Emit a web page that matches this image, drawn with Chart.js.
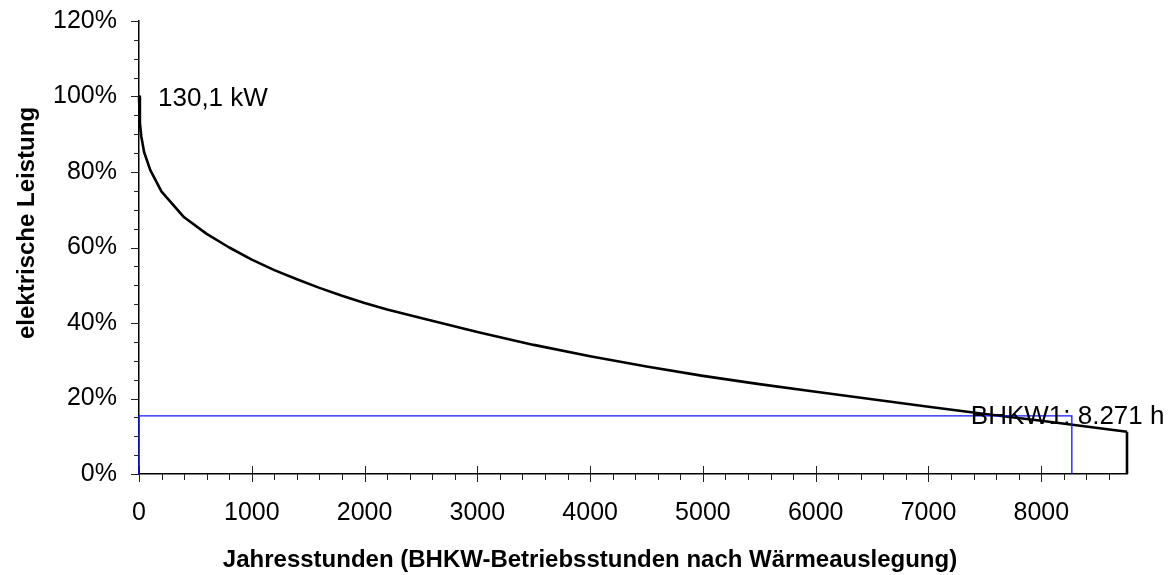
<!DOCTYPE html>
<html>
<head>
<meta charset="utf-8">
<script src="https://cdn.jsdelivr.net/npm/chart.js@4/dist/chart.umd.min.js"></script>
<style>
  body { margin: 0; background: #fff; }
  #wrap { width: 1176px; height: 575px; }
</style>
</head>
<body>
<div id="wrap"><canvas id="myChartCanvas"></canvas></div>
<script>
// Jahresdauerlinie der elektrischen Leistung
const hours = [0, 8, 20, 45, 100, 200, 400, 600, 800, 1000, 1200, 1400, 1600, 1800, 2000, 2200, 2500, 3000, 3500, 4000, 4500, 5000, 5500, 6000, 6500, 7000, 7500, 8000, 8760];
const load = [100, 93, 89.5, 85.3, 80.5, 74.8, 68.0, 63.6, 60.0, 56.8, 54.0, 51.6, 49.3, 47.2, 45.3, 43.6, 41.3, 37.6, 34.2, 31.2, 28.5, 26.0, 23.8, 21.8, 19.8, 17.8, 15.9, 14.1, 11.2];

// closing drop of the curve at the end of the year
const dropHours = [8760, 8760];
const dropLoad = [11.2, 0];

// BHKW1 operating block
const bhkwHours = [0, 0, 8271, 8271];
const bhkwLoad = [0, 15.4, 15.4, 0];

const xMax = 8760;
const xTicks = [0, 1000, 2000, 3000, 4000, 5000, 6000, 7000, 8000];
const yTicks = [0, 20, 40, 60, 80, 100, 120];
const peakLabel = '130,1 kW';
const bhkwLabel = 'BHKW1: 8.271 h';
const xTitle = 'Jahresstunden (BHKW-Betriebsstunden nach Wärmeauslegung)';
const yTitle = 'elektrische Leistung';

const FONT = "'Liberation Sans', Arial, sans-serif";

function toPoints(xs, ys) {
  return xs.map((x, i) => ({ x: x, y: ys[i] }));
}

// Draws tick marks (major + minor), axis titles and the two text labels
const decorations = {
  id: 'decorations',
  afterDraw(chart) {
    const { ctx } = chart;
    const x = chart.scales.x;
    const y = chart.scales.y;
    ctx.save();
    ctx.strokeStyle = '#222';
    ctx.lineWidth = 1;

    // x ticks every 200 h, long ones every 1000 h
    for (let v = 0; v <= xMax; v += 200) {
      const px = Math.round(x.getPixelForValue(v)) + 0.5;
      const major = v % 1000 === 0;
      ctx.beginPath();
      ctx.moveTo(px, y.bottom + (major ? -8 : 0));
      ctx.lineTo(px, y.bottom + (major ? 8 : 6));
      ctx.stroke();
    }
    // y ticks every 5 %, long ones every 20 %
    for (let v = 0; v <= 120; v += 5) {
      const py = Math.round(y.getPixelForValue(v)) + 0.5;
      const major = v % 20 === 0;
      ctx.beginPath();
      ctx.moveTo(x.left - (major ? 8 : 5), py);
      ctx.lineTo(x.left, py);
      ctx.stroke();
    }

    ctx.fillStyle = '#000';
    ctx.textBaseline = 'alphabetic';

    // annotations
    ctx.font = '26px ' + FONT;
    ctx.textAlign = 'left';
    ctx.fillText(peakLabel, x.getPixelForValue(0) + 19, y.getPixelForValue(100) + 9);
    ctx.fillText(bhkwLabel, x.getPixelForValue(7375), y.getPixelForValue(15.4) + 8);

    // axis titles
    ctx.font = 'bold 24px ' + FONT;
    ctx.textAlign = 'center';
    ctx.fillText(xTitle, 590, 567);

    ctx.translate(34, 223);
    ctx.rotate(-Math.PI / 2);
    ctx.fillText(yTitle, 0, 0);
    ctx.restore();
  }
};

const config = {
  type: 'scatter',
  data: {
    datasets: [
      {
        label: 'BHKW1',
        data: toPoints(bhkwHours, bhkwLoad),
        showLine: true,
        borderColor: 'rgb(20, 20, 255)',
        borderWidth: 1.3,
        pointRadius: 0,
        clip: 10,
      },
      {
        label: 'Leistung',
        data: toPoints(hours, load),
        showLine: true,
        borderColor: '#000',
        borderWidth: 2.6,
        pointRadius: 0,
        tension: 0,
        borderJoinStyle: 'round',
        clip: 10,
      },
      {
        label: 'Ende',
        data: toPoints(dropHours, dropLoad),
        showLine: true,
        borderColor: '#000',
        borderWidth: 2.6,
        pointRadius: 0,
        clip: 10,
      },
    ],
  },
  options: {
    responsive: true,
    maintainAspectRatio: false,
    animation: false,
    layout: {
      padding: { left: 0, right: 49, top: 21, bottom: 0 },
    },
    plugins: {
      legend: { display: false },
      tooltip: { enabled: false },
    },
    scales: {
      x: {
        type: 'linear',
        min: 0,
        max: xMax,
        afterBuildTicks: (scale) => {
          scale.ticks = xTicks.map((v) => ({ value: v }));
        },
        afterFit: (scale) => {
          scale.height = 101;
          scale.paddingLeft = 0;
          scale.paddingRight = 0;
        },
        ticks: {
          padding: 24,
          color: '#000',
          maxRotation: 0,
          minRotation: 0,
          autoSkip: false,
          font: { family: FONT, size: 25 },
          callback: (value) => String(value),
        },
        grid: { display: false, drawTicks: false },
        border: { display: true, color: '#000', width: 1.5 },
      },
      y: {
        type: 'linear',
        min: 0,
        max: 120,
        afterBuildTicks: (scale) => {
          scale.ticks = yTicks.map((v) => ({ value: v }));
        },
        afterFit: (scale) => {
          scale.width = 139;
          scale.paddingTop = 0;
          scale.paddingBottom = 0;
        },
        ticks: {
          padding: 22,
          color: '#000',
          font: { family: FONT, size: 25 },
          callback: (value) => `${value}%`,
        },
        grid: { display: false, drawTicks: false },
        border: { display: true, color: '#000', width: 1.5 },
      },
    },
  },
  plugins: [decorations],
};

new Chart(document.getElementById('myChartCanvas'), config);
</script>
</body>
</html>
